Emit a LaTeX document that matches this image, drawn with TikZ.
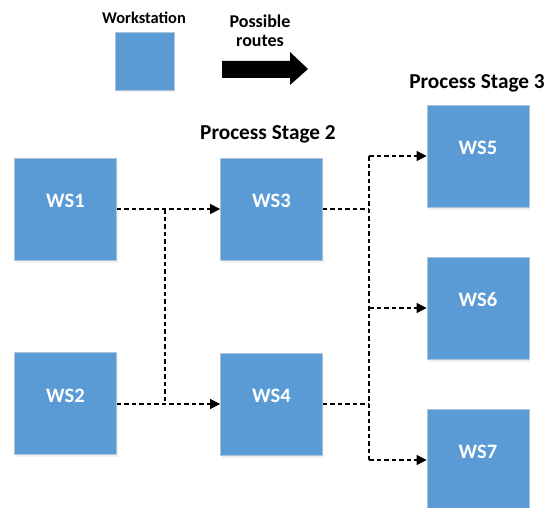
\documentclass[tikz,border=0pt]{standalone}
\usepackage{fontspec}
\setmainfont{Carlito}
\usetikzlibrary{arrows.meta,shadows}
\definecolor{wsblue}{HTML}{5B9BD5}
\definecolor{wsedge}{HTML}{AFC3D9}
\tikzset{
  wsbox/.style={draw=wsedge, line width=0.8pt, fill=wsblue, minimum width=102pt, minimum height=102pt,
    inner sep=0pt, text=white, font=\bfseries\fontsize{20.5}{20}\selectfont,
    text height=13pt, text depth=16pt,
    drop shadow={opacity=0.12, shadow xshift=1pt, shadow yshift=-2.5pt}},
  legendbox/.style={draw=wsedge, line width=0.8pt, fill=wsblue, minimum width=59pt, minimum height=58pt,
    inner sep=0pt, drop shadow={opacity=0.12, shadow xshift=1pt, shadow yshift=-2.5pt}},
  title/.style={font=\bfseries\fontsize{21.3}{22}\selectfont, inner sep=0pt},
  legendtext/.style={font=\bfseries\fontsize{16.4}{20}\selectfont, inner sep=0pt, align=center},
  routestext/.style={font=\bfseries\fontsize{18}{19.5}\selectfont, inner sep=0pt, align=center},
  route/.style={line width=1.2pt, dash pattern=on 4.5pt off 3pt},
  flow/.style={route, -{Triangle[length=10pt,width=10pt]}},
}
\begin{document}
\begin{tikzpicture}[x=1pt,y=-1pt]
\useasboundingbox (0,0) rectangle (546,508);

% legend
\node[legendtext] (lgws) at (144,18) {Workstation};
\node[legendbox] (lgbox) at (144.5,61) {};
\node[routestext] (lgroutes) at (260,31) {Possible\\routes};
\fill[black] (222,61) -- (290,61) -- (290,52) -- (308,69) -- (290,85) -- (290,78) -- (222,78) -- cycle;

% stage titles
\node[title] (stage2) at (268,134) {Process Stage 2};
\node[title] (stage3) at (477,83) {Process Stage 3};

% workstations
\node[wsbox] (ws1) at (65.5,209) {WS1};
\node[wsbox] (ws2) at (65.5,403.5) {WS2};
\node[wsbox] (ws3) at (271.5,209) {WS3};
\node[wsbox] (ws4) at (271.5,404) {WS4};
\node[wsbox] (ws5) at (478,156) {WS5};
\node[wsbox] (ws6) at (478,308) {WS6};
\node[wsbox] (ws7) at (478,460) {WS7};

% routing junctions
\coordinate (ja) at (165,209);
\coordinate (jb) at (165,404);
\coordinate (jc) at (369,209);
\coordinate (jd) at (369,404);
\coordinate (j5) at (369,156);
\coordinate (j6) at (369,308);
\coordinate (j7) at (369,460);

% stage 1 to stage 2
\draw[flow] (ws1.east) -- (ws3.west);
\draw[flow] (ws2.east |- jb) -- (ws4.west);
\draw[route] (ja) -- (jb);

% stage 2 to stage 3
\draw[route] (ws3.east) -- (jc);
\draw[route] (ws4.east) -- (jd);
\draw[route] (j5) -- (j7);
\draw[flow] (j5) -- (ws5.west);
\draw[flow] (j6) -- (ws6.west);
\draw[flow] (j7) -- (ws7.west);
\end{tikzpicture}
\end{document}
